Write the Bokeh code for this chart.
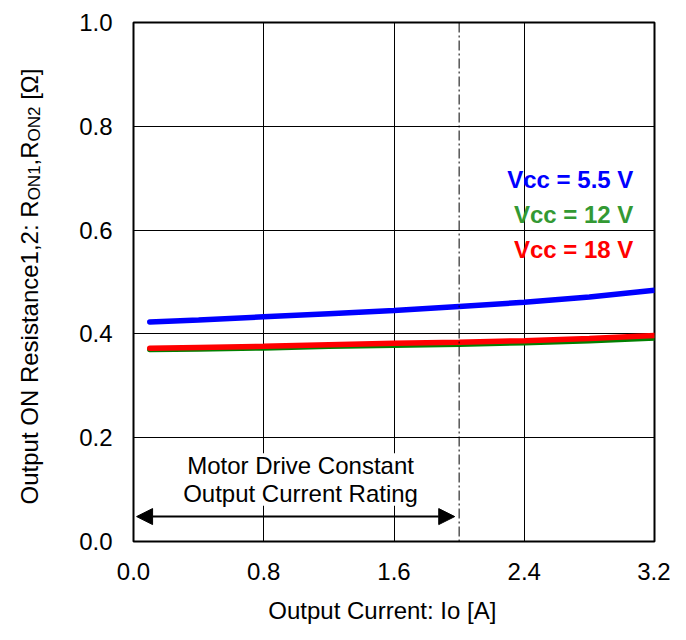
import math
from bokeh.plotting import figure
from bokeh.layouts import row, column
from bokeh.models import Range1d, FixedTicker, Label, Span, Arrow, NormalHead, BoxAnnotation
from bokeh.embed import file_html
from bokeh.resources import INLINE

# ---------------- data ----------------
current_a = [0.1, 0.4, 0.8, 1.2, 1.6, 2.0, 2.4, 2.8, 3.2]
ron_vcc55 = [0.423, 0.427, 0.433, 0.439, 0.445, 0.453, 0.461, 0.471, 0.484]
ron_vcc12 = [0.370, 0.371, 0.373, 0.376, 0.378, 0.380, 0.383, 0.387, 0.392]
ron_vcc18 = [0.3725, 0.374, 0.376, 0.379, 0.382, 0.384, 0.387, 0.391, 0.397]
series_names = ["Vcc = 5.5 V", "Vcc = 12 V", "Vcc = 18 V"]
x_ticks = [0.0, 0.8, 1.6, 2.4, 3.2]
x_tick_labels = ["0.0", "0.8", "1.6", "2.4", "3.2"]
y_ticks = [0.0, 0.2, 0.4, 0.6, 0.8, 1.0]
y_tick_labels = ["0.0", "0.2", "0.4", "0.6", "0.8", "1.0"]
rating_current = 2.0
rating_text = ["Motor Drive Constant", "Output Current Rating"]
x_title = "Output Current: Io [A]"

FONT = "Liberation Sans"
FS = 24
TOTAL_W, TOTAL_H = 670, 624
YLAB_W = 44
MAIN_H = 590

# ---------------- main chart ----------------
p = figure(width=TOTAL_W - YLAB_W, height=MAIN_H, output_backend="svg", toolbar_location=None,
           x_range=Range1d(0, 3.2), y_range=Range1d(0, 1.0),
           min_border_left=89, min_border_right=16, min_border_top=22,
           min_border_bottom=MAIN_H - 22 - 519)
p.background_fill_color = "white"
p.border_fill_color = "white"
p.outline_line_color = "black"
p.outline_line_width = 2

for ax in (p.xaxis[0], p.yaxis[0]):
    ax.axis_line_color = None
    ax.major_tick_line_color = None
    ax.minor_tick_line_color = None
    ax.major_label_text_font = FONT
    ax.major_label_text_font_size = f"{FS}px"
    ax.major_label_text_color = "black"
p.xaxis.ticker = FixedTicker(ticks=x_ticks)
p.yaxis.ticker = FixedTicker(ticks=y_ticks)
p.xaxis.major_label_overrides = {t: l for t, l in zip(x_ticks, x_tick_labels)}
p.yaxis.major_label_overrides = {t: l for t, l in zip(y_ticks, y_tick_labels)}
p.xaxis.major_label_standoff = 15
p.yaxis.major_label_standoff = 15

p.xgrid.grid_line_color = "black"
p.ygrid.grid_line_color = "black"
p.xgrid.grid_line_width = 1
p.ygrid.grid_line_width = 1

# white box behind the annotation text
p.add_layout(BoxAnnotation(left=0.29, right=1.76, bottom=0.069, top=0.170,
                           fill_color="white", fill_alpha=1.0, line_color=None, level="underlay"))

# rating line
p.add_layout(Span(location=rating_current, dimension="height", line_color="black",
                  line_width=1, line_dash="10 3 2 3"))

# curves
p.line(current_a, ron_vcc55, line_color="#0000FF", line_width=5.5, line_cap="round")
p.line(current_a, ron_vcc12, line_color="#008000", line_width=5.5, line_cap="round")
p.line(current_a, ron_vcc18, line_color="#FF0000", line_width=5.5, line_cap="round")

# legend texts
leg_colors = ["#0000FF", "#339933", "#FF0000"]
leg_y = [0.6981, 0.6306, 0.5632]
for name, c, yy in zip(series_names, leg_colors, leg_y):
    p.add_layout(Label(x=3.07, y=yy, text=name, text_align="right", text_baseline="alphabetic",
                       text_font=FONT, text_font_size=f"{FS}px", text_font_style="bold",
                       text_color=c))

# annotation text + arrow
for txt, yy in zip(rating_text, [0.1458, 0.0925]):
    p.add_layout(Label(x=1.026, y=yy, text=txt, text_align="center", text_baseline="alphabetic",
                       text_font=FONT, text_font_size=f"{FS}px", text_color="black"))
p.add_layout(Arrow(x_start=0.019, y_start=0.048, x_end=1.973, y_end=0.048,
                   line_color="black", line_width=2,
                   start=NormalHead(size=16, fill_color="black", line_color="black"),
                   end=NormalHead(size=16, fill_color="black", line_color="black")))

# ---------------- y-axis title panel (rotated, with subscripts) ----------------
yl = figure(width=YLAB_W, height=TOTAL_H, output_backend="svg", toolbar_location=None,
            x_range=Range1d(0, YLAB_W), y_range=Range1d(0, TOTAL_H),
            x_axis_location=None, y_axis_location=None, min_border=0)
yl.outline_line_color = None
yl.background_fill_color = "white"
yl.border_fill_color = "white"
for g in yl.grid:
    g.visible = False

def w(units, fs):
    return units / 1000.0 * fs
SUB = 17
pieces = [
    ("Output ON Resistance1,2: R", FS, 12672, 0),
    ("ON1", SUB, 2056, 5),
    (",R", FS, 1000, 0),
    ("ON2", SUB, 2056, 5),
    ("[\u03a9]", FS, 1324, 0),
]
ypos = TOTAL_H - 504.0
for i, (txt, fs, units, shift) in enumerate(pieces):
    if i == len(pieces) - 1:
        ypos += w(278, FS)  # word space before the unit
    yl.add_layout(Label(x=29 + shift, y=ypos, text=txt, angle=math.pi / 2,
                        text_align="left", text_baseline="alphabetic",
                        text_font=FONT, text_font_size=f"{fs}px", text_color="black"))
    ypos += w(units, fs)

# ---------------- x-axis title panel ----------------
XL_H = TOTAL_H - MAIN_H
xl = figure(width=TOTAL_W - YLAB_W, height=XL_H, output_backend="svg", toolbar_location=None,
            x_range=Range1d(0, TOTAL_W - YLAB_W), y_range=Range1d(0, XL_H),
            x_axis_location=None, y_axis_location=None, min_border=0)
xl.outline_line_color = None
xl.background_fill_color = "white"
xl.border_fill_color = "white"
for g in xl.grid:
    g.visible = False
xl.add_layout(Label(x=299, y=14, text=x_title, text_align="center",
                    text_baseline="alphabetic", text_font=FONT,
                    text_font_size=f"{FS}px", text_color="black"))

layout = row(yl, column(p, xl))
open("out.html", "w").write(file_html(layout, INLINE))
